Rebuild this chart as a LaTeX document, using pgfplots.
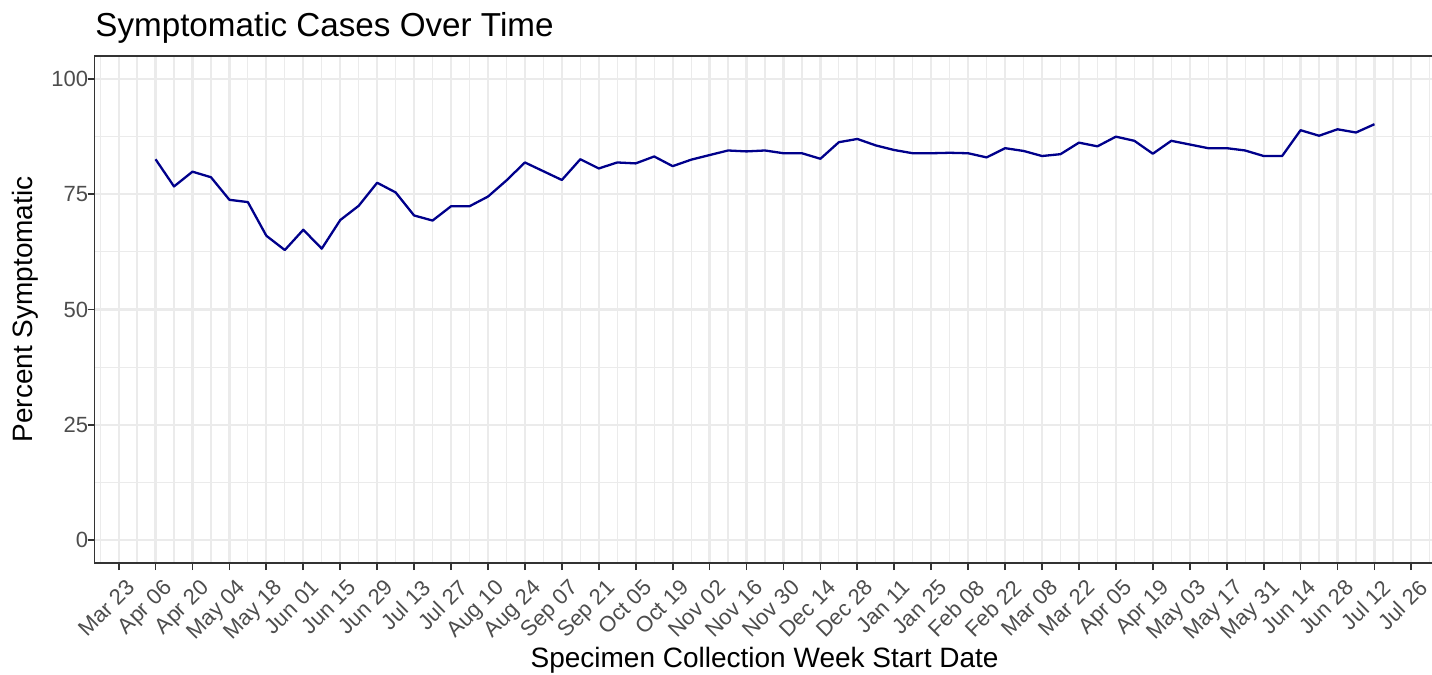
\documentclass[border=0pt]{standalone}
\usepackage{fontspec}
\setmainfont{Liberation Sans}
\usepackage{pgfplots}
\pgfplotsset{compat=1.18}
\definecolor{gridc}{HTML}{EBEBEB}
\definecolor{axc}{HTML}{333333}
\definecolor{tickc}{HTML}{4D4D4D}
\definecolor{linec}{HTML}{00008B}
\pgfplotstableread{
week pct
2 82.6
3 76.7
4 79.9
5 78.7
6 73.8
7 73.3
8 66.0
9 62.9
10 67.3
11 63.2
12 69.4
13 72.5
14 77.5
15 75.4
16 70.4
17 69.3
18 72.4
19 72.4
20 74.5
21 78.0
22 81.9
23 80.0
24 78.1
25 82.6
26 80.6
27 81.9
28 81.7
29 83.2
30 81.1
31 82.5
32 83.5
33 84.5
34 84.3
35 84.5
36 83.9
37 83.9
38 82.7
39 86.3
40 87.0
41 85.6
42 84.6
43 83.9
44 83.9
45 84.0
46 83.9
47 83.0
48 85.0
49 84.4
50 83.3
51 83.7
52 86.2
53 85.4
54 87.5
55 86.6
56 83.8
57 86.6
58 85.8
59 85.0
60 85.0
61 84.5
62 83.3
63 83.3
64 88.9
65 87.7
66 89.1
67 88.4
68 90.2
}\datatable
\begin{document}
\begin{tikzpicture}
\useasboundingbox (-47.3pt,-56pt) rectangle (668.7pt,281.5pt);
\begin{axis}[
  at={(0,0)}, anchor=south west,
  scale only axis, width=670.4pt, height=253.5pt,
  xmin=-1.3, xmax=71.3, ymin=-5, ymax=105,
  xtick={0,2,...,70},
  xticklabels={Mar 23,Apr 06,Apr 20,May 04,May 18,Jun 01,Jun 15,Jun 29,Jul 13,Jul 27,Aug 10,Aug 24,Sep 07,Sep 21,Oct 05,Oct 19,Nov 02,Nov 16,Nov 30,Dec 14,Dec 28,Jan 11,Jan 25,Feb 08,Feb 22,Mar 08,Mar 22,Apr 05,Apr 19,May 03,May 17,May 31,Jun 14,Jun 28,Jul 12,Jul 26},
  minor xtick={-1,1,...,71},
  ytick={0,25,50,75,100}, yticklabels={0,25,50,75,100},
  minor ytick={12.5,37.5,62.5,87.5},
  grid=both,
  major grid style={gridc, line width=1.1pt},
  minor grid style={gridc, line width=0.6pt},
  axis line style={axc, line width=0.7pt},
  tick align=outside, major tick length=3.5pt, minor tick length=0pt,
  every tick/.style={axc, line width=0.9pt},
  tick pos=left,
  ticklabel style={font=\fontsize{11}{13}\selectfont, text=tickc},
  xticklabel style={rotate=45, anchor=north east, inner sep=1.5pt, yshift=-3.5pt, xshift=1pt},
  yticklabel style={inner sep=0pt, xshift=0.5pt},
]
\addplot[linec, line width=1.15pt, line join=round] table[x=week, y=pct] {\datatable};
\end{axis}
\node[anchor=base west, inner sep=0pt, font=\fontsize{16.6}{20}\selectfont] at (0.2pt,263pt) {Symptomatic Cases Over Time};
\node[anchor=base, inner sep=0pt, font=\fontsize{14}{17}\selectfont] at (335pt,-52.5pt) {Specimen Collection Week Start Date};
\node[anchor=base, rotate=90, inner sep=0pt, font=\fontsize{14}{17}\selectfont] at (-30.8pt,126.75pt) {Percent Symptomatic};
\end{tikzpicture}
\end{document}
